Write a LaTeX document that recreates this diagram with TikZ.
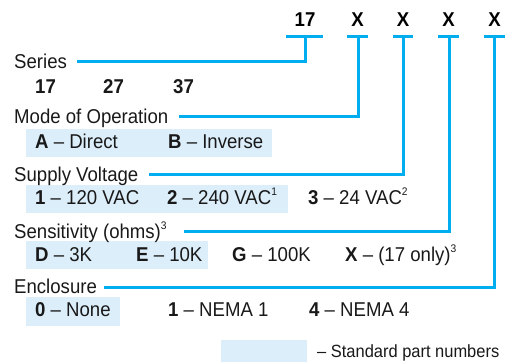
\documentclass[tikz,border=0pt]{standalone}
\usepackage{fontspec}
\setmainfont{Liberation Sans}[FakeStretch=0.93]
\definecolor{lineblue}{HTML}{00AEEF}
\definecolor{shadeblue}{HTML}{DCEEFA}
\newcommand{\sfz}{\fontsize{20}{22}\selectfont}
\newcommand{\sfs}{\fontsize{17.7}{19}\selectfont}
\newcommand{\supn}[1]{\raisebox{0.8ex}{\fontsize{11}{11}\selectfont #1}}
\begin{document}
\begin{tikzpicture}[x=1pt,y=-1pt,
  lbl/.style={anchor=base west, inner sep=0pt, font=\sfz, text=black!90},
  code/.style={anchor=base, inner sep=0pt, font=\sfz\bfseries},
  lead/.style={draw=lineblue, line width=3pt},
  shadebox/.style={fill=shadeblue}]
\useasboundingbox (0,0) rectangle (509,362);
% shaded boxes
\fill[shadebox] (26,129) rectangle (272,157);
\fill[shadebox] (26,185) rectangle (288,213);
\fill[shadebox] (26,241) rectangle (208,269);
\fill[shadebox] (26,297) rectangle (120,326);
\fill[shadebox] (221,340) rectangle (307,362);
% top code
\node[code] (c0) at (305,26) {17};
\node[code] (c1) at (357.5,26) {X};
\node[code] (c2) at (403,26) {X};
\node[code] (c3) at (448.5,26) {X};
\node[code] (c4) at (494.5,26) {X};
% bar coordinates
\coordinate (b0l) at (286,36); \coordinate (b0r) at (323,36); \coordinate (b0) at (305,36);
\coordinate (b1l) at (347,36); \coordinate (b1r) at (368,36); \coordinate (b1) at (358,36);
\coordinate (b2l) at (393,36); \coordinate (b2r) at (413,36); \coordinate (b2) at (403,36);
\coordinate (b3l) at (438,36); \coordinate (b3r) at (459,36); \coordinate (b3) at (449,36);
\coordinate (b4l) at (484,36); \coordinate (b4r) at (505,36); \coordinate (b4) at (494,36);
% lead ends
\coordinate (e0) at (77,61);
\coordinate (e1) at (179,116);
\coordinate (e2) at (149,174.5);
\coordinate (e3) at (184,231);
\coordinate (e4) at (104,287);
\draw[lead] (b0l) -- (b0r);
\draw[lead] (b1l) -- (b1r);
\draw[lead] (b2l) -- (b2r);
\draw[lead] (b3l) -- (b3r);
\draw[lead] (b4l) -- (b4r);
\draw[lead] (b0) |- (e0);
\draw[lead] (b1) |- (e1);
\draw[lead] (b2) |- (e2);
\draw[lead] (b3) |- (e3);
\draw[lead] (b4) |- (e4);
% Series
\node[lbl] (series) at (14,68) {Series};
\node[lbl,font=\sfz\bfseries] (s17) at (35,93) {17};
\node[lbl,font=\sfz\bfseries] (s27) at (103,93) {27};
\node[lbl,font=\sfz\bfseries] (s37) at (173,93) {37};
% Mode
\node[lbl] (mode) at (14,123) {Mode of Operation};
\node[lbl] (mA) at (35,148) {\textbf{A} – Direct};
\node[lbl] (mB) at (168,148) {\textbf{B} – Inverse};
% Supply
\node[lbl] (supply) at (14,181) {Supply Voltage};
\node[lbl] (v1) at (35,204) {\textbf{1} – 120 VAC};
\node[lbl] (v2) at (167,204) {\textbf{2} – 240 VAC\supn{1}};
\node[lbl] (v3) at (308,204) {\textbf{3} – 24 VAC\supn{2}};
% Sensitivity
\node[lbl] (sens) at (14,238) {Sensitivity (ohms)\supn{3}};
\node[lbl] (sD) at (35,261) {\textbf{D} – 3K};
\node[lbl] (sE) at (136,261) {\textbf{E} – 10K};
\node[lbl] (sG) at (232,261) {\textbf{G} – 100K};
\node[lbl] (sX) at (345,261) {\textbf{X} – (17 only)\supn{3}};
% Enclosure
\node[lbl] (encl) at (14,293) {Enclosure};
\node[lbl] (n0) at (35,316) {\textbf{0} – None};
\node[lbl] (n1) at (168,316) {\textbf{1} – NEMA 1};
\node[lbl] (n4) at (309,316) {\textbf{4} – NEMA 4};
% legend
\node[lbl,font=\sfs] (legend) at (317,357) {– Standard part numbers};
\end{tikzpicture}
\end{document}
